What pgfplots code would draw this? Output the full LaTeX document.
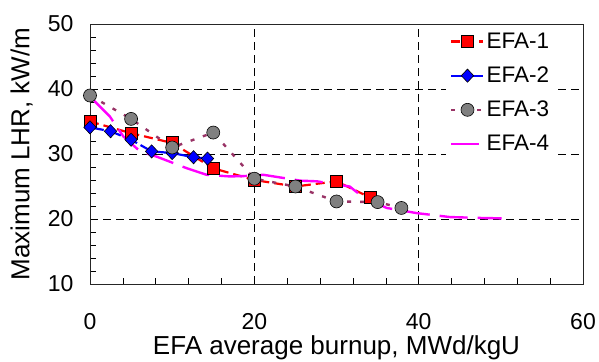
\documentclass[border=0pt]{standalone}
\usepackage{pgfplots}
\pgfplotsset{compat=1.18}
\usepackage{fontspec}
\setmainfont{Liberation Sans}
\definecolor{efa3}{RGB}{153,51,102}
\definecolor{mag}{RGB}{255,0,255}
\begin{document}
\begin{tikzpicture}
\begin{axis}[
  scale only axis,
  width=493bp, height=260bp,
  xmin=0, xmax=60, ymin=10, ymax=50,
  xtick={0,20,40,60}, ytick={10,20,30,40,50},
  minor x tick num=4, minor y tick num=4,
  tick align=inside, tick pos=left,
  major tick length=6bp, minor tick length=6bp,
  grid=major,
  major grid style={black, line width=0.7pt, dash pattern=on 8bp off 5bp},
  axis line style={black!85, line width=0.9pt},
  tick style={black, line width=0.6pt},
  ticklabel style={font=\fontsize{23bp}{27bp}\selectfont},
  /pgf/number format/assume math mode=true,
  xticklabel style={yshift=-26bp},
  yticklabel style={xshift=-13bp},
  xlabel={EFA average burnup, MWd/kgU},
  ylabel={Maximum LHR, kW/m},
  label style={font=\fontsize{26bp}{30bp}\selectfont},
  xlabel style={at={(axis description cs:0.5,0)}, anchor=base, yshift=-70bp},
  ylabel style={at={(axis description cs:0,0.5)}, anchor=base, yshift=60.6bp},
  legend style={at={(0.944,0.985)}, anchor=north east, draw=none, fill=white,
    font=\fontsize{22.5bp}{26bp}\selectfont, row sep=13bp, inner xsep=4bp, inner ysep=3bp},
  legend cell align=left,
  legend image code/.code={
    \draw[mark repeat=2,mark phase=2,#1] plot coordinates {(-4bp,0bp) (12bp,0bp) (28bp,0bp)};
  },
]
\coordinate (bl) at (rel axis cs:0,0);
\coordinate (tr) at (rel axis cs:1,1);
\addplot[red, line width=2.2pt, dash pattern=on 9bp off 5bp, mark=square*, mark size=6.2bp,
  mark options={solid, fill=red, draw=black, line width=0.6pt}]
  coordinates {(0,35.0) (5,33.2) (10,31.7) (15,27.8) (20,26.0) (25,25.0) (30,25.8) (34.1,23.3)};
\addlegendentry{EFA-1}
\addplot[blue, line width=2.2pt, dash pattern=on 14bp off 4bp, mark=diamond*, mark size=6.6bp,
  mark options={solid, fill=blue, draw=black, line width=0.6pt, xscale=1.25}]
  coordinates {(0,34.1) (2.5,33.5) (5,32.2) (7.5,30.4) (10,30.15) (12.6,29.5) (14.3,29.3)};
\addlegendentry{EFA-2}
\addplot[efa3, line width=2.4pt, dash pattern=on 4bp off 9bp, mark=*, mark size=6.5bp,
  mark options={solid, fill=gray, draw=black, line width=0.6pt}]
  coordinates {(0,39.0) (5,35.4) (10,31.0) (15,33.3) (20,26.2) (25,25.0) (30,22.7) (35,22.6) (37.9,21.7)};
\addlegendentry{EFA-3}
\addplot[mag, line width=2.4pt, dash pattern=on 28bp off 10bp]
  coordinates {(0.5,38.2) (2.4,35.8) (4.06,32.7) (6.1,30.4) (8.1,29.6) (11.8,27.8) (14.2,26.8) (17,26.55) (18.7,26.6) (21.1,26.8) (25.6,25.9) (27.6,25.8) (31.6,25.0) (33.1,23.5) (36.1,21.7) (39.8,20.9) (43.8,20.3) (47.9,20.15) (50.1,20.1)};
\addlegendentry{EFA-4}
\end{axis}
\pgfresetboundingbox
\path[use as bounding box] ([shift={(-90bp,-77bp)}]bl) rectangle ([shift={(16bp,24bp)}]tr);
\end{tikzpicture}
\end{document}
